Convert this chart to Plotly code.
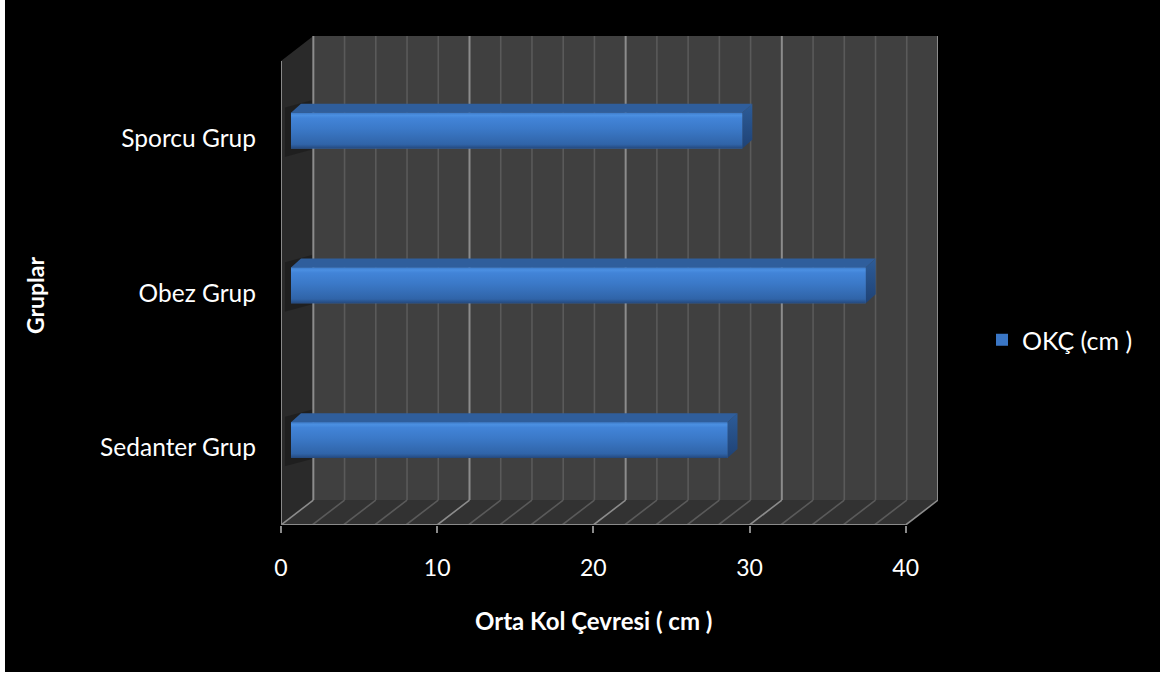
import plotly.graph_objects as go

# Data
categories = ["Sedanter Grup", "Obez Grup", "Sporcu Grup"]
okc_values = [27.95, 36.8, 28.9]
x_ticks = [0, 10, 20, 30, 40]
series_name = "OKÇ (cm )"
x_title = "Orta Kol Çevresi ( cm )"
y_title = "Gruplar"

# 3D frame geometry (axis units)
XMAX = 40          # value-axis maximum on the front plane
DEPTH_X = 2.07     # horizontal shift from front plane to back wall
DEPTH_Y = 0.161    # vertical shift from front plane to back wall
NCAT = len(categories)

# bar placement inside the depth
BAR_DX, BAR_DY = 0.64, 0.049     # front face offset
BAR_H = 0.232                    # bar thickness
BAR_SIDE_X, BAR_SIDE_Y = 0.64, 0.058  # depth of the bar itself

FONT = "Lato"
WALL = "#404040"
SIDE_WALL = "#2a2a2a"
FLOOR = "#323232"
GRID_MINOR = "#5a5a5a"
GRID_MAJOR = "#8c8c8c"
EDGE = "#8a8a8a"

fig = go.Figure()

shapes = []
# page background
shapes.append(dict(type="rect", xref="paper", yref="paper",
                   x0=-0.4201, x1=1.3379, y0=-0.3006, y1=1.0736,
                   fillcolor="black", line=dict(width=0), layer="below"))
# back wall
shapes.append(dict(type="rect", xref="x", yref="y", x0=DEPTH_X, x1=XMAX + DEPTH_X,
                   y0=DEPTH_Y, y1=NCAT + DEPTH_Y, fillcolor=WALL,
                   line=dict(width=0), layer="below"))
# left side wall
shapes.append(dict(type="path", xref="x", yref="y",
                   path=f"M0,0 L{DEPTH_X},{DEPTH_Y} L{DEPTH_X},{NCAT + DEPTH_Y} L0,{NCAT} Z",
                   fillcolor=SIDE_WALL, line=dict(width=0), layer="below"))
# soft shadows cast by the bars onto the side wall
for i in range(NCAT):
    yc = i + 0.5 + BAR_DY
    shapes.append(dict(type="path", xref="x", yref="y",
                       path=(f"M0.25,{yc - 0.17} L{DEPTH_X},{yc - 0.12} "
                             f"L{DEPTH_X},{yc + 0.2} L0.25,{yc + 0.15} Z"),
                       fillcolor="rgba(0,0,0,0.25)", line=dict(width=0), layer="below"))
# floor
shapes.append(dict(type="path", xref="x", yref="y",
                   path=f"M0,0 L{XMAX},0 L{XMAX + DEPTH_X},{DEPTH_Y} L{DEPTH_X},{DEPTH_Y} Z",
                   fillcolor=FLOOR, line=dict(width=0), layer="below"))
# grid lines on back wall and floor, every 2 units
for v in range(0, XMAX + 1, 2):
    major = v % 10 == 0
    col = GRID_MAJOR if major else GRID_MINOR
    shapes.append(dict(type="line", xref="x", yref="y",
                       x0=v + DEPTH_X, x1=v + DEPTH_X, y0=DEPTH_Y, y1=NCAT + DEPTH_Y,
                       line=dict(color=col, width=2 if major else 1.6), layer="below"))
    shapes.append(dict(type="line", xref="x", yref="y",
                       x0=v, x1=v + DEPTH_X, y0=0, y1=DEPTH_Y,
                       line=dict(color=col, width=1.6), layer="below"))
# front edges
shapes.append(dict(type="line", xref="x", yref="y", x0=0, x1=XMAX, y0=0, y1=0,
                   line=dict(color=EDGE, width=2), layer="below"))
shapes.append(dict(type="line", xref="x", yref="y", x0=0, x1=0, y0=0, y1=NCAT,
                   line=dict(color=EDGE, width=2), layer="below"))

# front faces of the bars (flat colour, legend entry)
bar_y = [i + 0.5 + BAR_DY for i in range(NCAT)]
fig.add_trace(go.Bar(
    x=okc_values, y=bar_y, base=[BAR_DX] * NCAT, orientation="h",
    width=BAR_H, name=series_name,
    marker=dict(color="#3a76c5", line=dict(width=0)),
    hoverinfo="skip", showlegend=True,
))

# shading: top, side and graded front face for every bar
for i, v in enumerate(okc_values):
    x0, x1 = BAR_DX, BAR_DX + v
    y0, y1 = bar_y[i] - BAR_H / 2, bar_y[i] + BAR_H / 2
    # top face
    fig.add_trace(go.Scatter(
        x=[x0, x1, x1 + BAR_SIDE_X, x0 + BAR_SIDE_X, x0],
        y=[y1, y1, y1 + BAR_SIDE_Y, y1 + BAR_SIDE_Y, y1],
        fill="toself", fillcolor="#2f5e9c", mode="lines",
        line=dict(width=0), hoverinfo="skip", showlegend=False))
    # side face
    fig.add_trace(go.Scatter(
        x=[x1, x1 + BAR_SIDE_X, x1 + BAR_SIDE_X, x1, x1],
        y=[y0, y0 + BAR_SIDE_Y, y1 + BAR_SIDE_Y, y1, y0],
        fill="toself", mode="lines",
        fillgradient=dict(type="vertical",
                          colorscale=[[0, "#1f4275"], [1, "#2d5c98"]]),
        line=dict(width=0), hoverinfo="skip", showlegend=False))
    # front face with vertical shading
    fig.add_trace(go.Scatter(
        x=[x0, x1, x1, x0, x0],
        y=[y0, y0, y1, y1, y0],
        fill="toself", mode="lines",
        fillgradient=dict(type="vertical",
                          colorscale=[[0, "#24487c"], [0.12, "#3064a8"],
                                      [0.55, "#3b79c8"], [0.85, "#4284d8"],
                                      [0.93, "#4b90e2"], [1, "#3e7bc8"]]),
        line=dict(width=0), hoverinfo="skip", showlegend=False))

annotations = [
    dict(text=f"<b>{x_title}</b>", xref="paper", yref="paper", x=0.4749, y=-0.1943,
         xanchor="center", yanchor="middle", showarrow=False,
         font=dict(family=FONT, size=24, color="white")),
    dict(text=f"<b>{y_title}</b>", xref="paper", yref="paper", x=-0.3744, y=0.4703,
         xanchor="center", yanchor="middle", showarrow=False, textangle=-90,
         font=dict(family=FONT, size=23, color="white")),
]

fig.update_layout(
    width=1167, height=675,
    margin=dict(l=281, r=229, t=36, b=150),
    paper_bgcolor="white", plot_bgcolor="rgba(0,0,0,0)",
    shapes=shapes, annotations=annotations,
    barmode="overlay",
    xaxis=dict(range=[0, XMAX + DEPTH_X], tickvals=x_ticks,
               ticktext=[str(t) for t in x_ticks],
               showgrid=False, zeroline=False, showline=False,
               ticks="outside", ticklen=7, tickwidth=2, tickcolor=EDGE,
               ticklabelstandoff=15,
               tickfont=dict(family=FONT, size=23, color="white"), fixedrange=True),
    yaxis=dict(range=[0, NCAT + DEPTH_Y], tickvals=[i + 0.5 for i in range(NCAT)],
               ticktext=categories, showgrid=False, zeroline=False, showline=False,
               ticks="", ticklabelstandoff=24,
               tickfont=dict(family=FONT, size=24.5, color="white"), fixedrange=True),
    legend=dict(x=1.067, y=0.3783, xanchor="left", yanchor="middle",
                bgcolor="rgba(0,0,0,0)", font=dict(family=FONT, size=25, color="white")),
    showlegend=True,
)

fig.write_html("out.html")
